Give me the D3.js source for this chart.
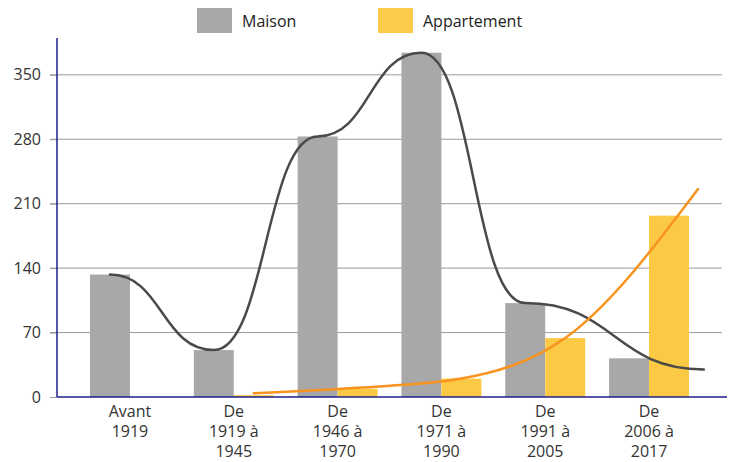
<!DOCTYPE html>
<html>
<head>
<meta charset="utf-8">
<script src="https://cdn.jsdelivr.net/npm/d3@7"></script>
<style>
  html, body { margin: 0; padding: 0; background: #fff; }
  svg { display: block; font-family: "Open Sans", "Noto Sans", sans-serif; }
</style>
</head>
<body>
<svg id="chart" width="729" height="462"></svg>
<script>
// Logements par période de construction
const periods = ["Avant 1919", "De 1919 à 1945", "De 1946 à 1970", "De 1971 à 1990", "De 1991 à 2005", "De 2006 à 2017"];
const periodLines = [["Avant", "1919"], ["De", "1919 à", "1945"], ["De", "1946 à", "1970"], ["De", "1971 à", "1990"], ["De", "1991 à", "2005"], ["De", "2006 à", "2017"]];
const seriesNames = ["Maison", "Appartement"];
const maisonValues = [133, 51, 283, 374, 102, 42];
const appartValues = [0, 2, 9, 20, 64, 197];

// Courbes de tendance : position (en rang de période) et valeur
const maisonTrendPos = [0, 1, 2, 3, 4, 5.72];
const maisonTrendValues = [133, 51, 283, 374, 102, 30];
const appartTrendPos = [1, 2, 3, 4, 5.28];
const appartTrendValues = [4, 10, 20, 64, 226];

const yTicks = [0, 70, 140, 210, 280, 350];

const colors = { Maison: "#a8a8a8", Appartement: "#fbc944" };
const lineColors = { Maison: "#4a4a4a", Appartement: "#f7931e" };

const svg = d3.select("#chart");
const axisX0 = 57, axisX1 = 727, plotRight = 722;

const x = d3.scaleBand().domain(periods).range([90, 689]).paddingInner(0.23).paddingOuter(0);
const xSub = d3.scaleBand().domain(seriesNames).range([0, x.bandwidth()]);
const y = d3.scaleLinear().domain([0, 390]).range([397, 38]);

// Position continue (rang de période) -> centre de la barre de la série
const rankToX = d3.scaleLinear().domain([0, 1]).range([x(periods[0]), x(periods[1])]);
const centerOf = (name, rank) => rankToX(rank) + xSub(name) + xSub.bandwidth() / 2;

// Grille horizontale
svg.append("g")
  .selectAll("line")
  .data(yTicks.filter(d => d > 0))
  .join("line")
  .attr("x1", 50).attr("x2", plotRight)
  .attr("y1", d => y(d)).attr("y2", d => y(d))
  .attr("stroke", "#9a9a9a").attr("stroke-width", 1);

// Barres
const groups = svg.append("g")
  .selectAll("g")
  .data(periods)
  .join("g")
  .attr("transform", d => `translate(${x(d)},0)`);

groups.selectAll("rect")
  .data((d, i) => [
    { name: "Maison", value: maisonValues[i] },
    { name: "Appartement", value: appartValues[i] }
  ])
  .join("rect")
  .attr("x", d => xSub(d.name))
  .attr("width", xSub.bandwidth())
  .attr("y", d => y(d.value))
  .attr("height", d => y(0) - y(d.value))
  .attr("fill", d => colors[d.name]);

// Axe des ordonnées
const yAxis = d3.axisLeft(y).tickValues(yTicks).tickSize(0).tickPadding(16).tickFormat(d3.format("d"));
const gy = svg.append("g").attr("transform", `translate(${axisX0},0)`).call(yAxis);
gy.select(".domain").remove();
gy.selectAll("text").attr("font-size", 16).attr("fill", "#333").attr("font-family", "Open Sans");
gy.selectAll(".tick").append("line")
  .attr("x1", -7).attr("x2", 0).attr("stroke", "#9a9a9a");

svg.append("line")
  .attr("x1", axisX0).attr("x2", axisX0)
  .attr("y1", y(390)).attr("y2", y(0))
  .attr("stroke", "#1e1e8a").attr("stroke-width", 1.5);

// Axe des abscisses
svg.append("line")
  .attr("x1", axisX0).attr("x2", axisX1)
  .attr("y1", y(0)).attr("y2", y(0))
  .attr("stroke", "#1e1e8a").attr("stroke-width", 1.5);

const labels = svg.append("g")
  .selectAll("text")
  .data(periods)
  .join("text")
  .attr("x", d => x(d) + x.bandwidth() / 2)
  .attr("y", 417)
  .attr("text-anchor", "middle")
  .attr("font-size", 16)
  .attr("fill", "#333");

labels.selectAll("tspan")
  .data((d, i) => periodLines[i])
  .join("tspan")
  .attr("x", function () { return d3.select(this.parentNode).attr("x"); })
  .attr("dy", (d, i) => i === 0 ? 0 : 20)
  .text(d => d);

// Courbes
const maisonLine = d3.line()
  .x(d => centerOf("Maison", d[0]))
  .y(d => y(d[1]))
  .curve(d3.curveBumpX);

const appartLine = d3.line()
  .x(d => centerOf("Appartement", d[0]))
  .y(d => y(d[1]))
  .curve(d3.curveMonotoneX);

svg.append("path")
  .datum(d3.zip(maisonTrendPos, maisonTrendValues))
  .attr("d", maisonLine)
  .attr("fill", "none")
  .attr("stroke", lineColors.Maison)
  .attr("stroke-width", 2.5)
  .attr("stroke-linecap", "round");

svg.append("path")
  .datum(d3.zip(appartTrendPos, appartTrendValues))
  .attr("d", appartLine)
  .attr("fill", "none")
  .attr("stroke", lineColors.Appartement)
  .attr("stroke-width", 2.5)
  .attr("stroke-linecap", "round");

// Légende
const legend = svg.append("g")
  .selectAll("g")
  .data([{ name: "Maison", x: 197 }, { name: "Appartement", x: 378 }])
  .join("g")
  .attr("transform", d => `translate(${d.x},8)`);

legend.append("rect")
  .attr("width", 35).attr("height", 25)
  .attr("fill", d => d.name === "Maison" ? "#a8a8a8" : "#fdcb4a");

legend.append("text")
  .attr("x", 45).attr("y", 18.5)
  .attr("font-size", 16)
  .attr("fill", "#222")
  .text(d => d.name);
</script>
</body>
</html>
